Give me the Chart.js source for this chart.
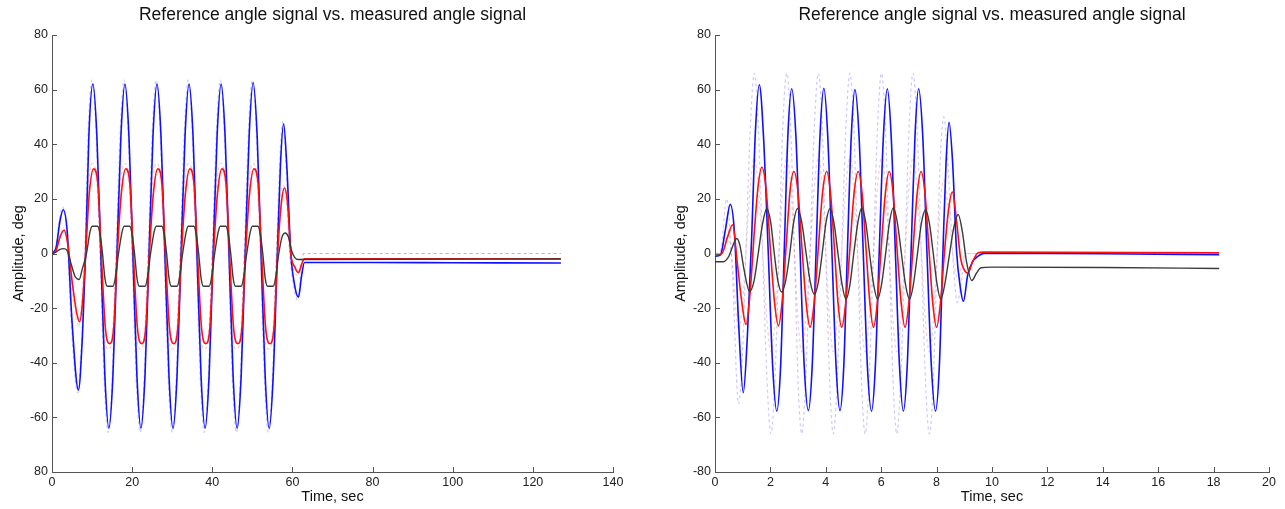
<!DOCTYPE html>
<html lang="en">
<head>
<meta charset="UTF-8">
<title>Reference angle signal vs. measured angle signal</title>
<script src="https://cdn.jsdelivr.net/npm/chart.js@4.4.1/dist/chart.umd.min.js"></script>
<style>
    body { margin: 0; padding: 0; background: #fff; }
    .wrap { position: absolute; top: 0; }
    #wrapL { left: 0; }
    #wrapR { left: 640px; }
</style>
</head>
<body>
<div class="wrap" id="wrapL"><canvas id="chartL" width="640" height="509"></canvas></div>
<div class="wrap" id="wrapR"><canvas id="chartR" width="645" height="509"></canvas></div>
<script>
// ---- data: [time (sec), angle (deg)] ----

// left plot, 0..127 s
var measBlueL = [
    [0,0],[1,2],[2,12],[2.8,16],[3.8,8],[5,-25],[6.6,-50],[7.6,-30],[8.4,0],
    [9.2,43],[10.2,62],[11.2,43],[12.2,-1],[13.2,-45],[14.2,-64],[15.2,-45],[16.2,-1],
    [17.2,43],[18.2,62],[19.2,43],[20.2,-1],[21.2,-45],[22.2,-64],[23.2,-45],[24.2,-1],
    [25.2,43],[26.2,62],[27.2,43],[28.2,-1],[29.2,-45],[30.2,-64],[31.2,-45],[32.2,-1],
    [33.2,43],[34.2,62],[35.2,43],[36.2,-1],[37.2,-45],[38.2,-64],[39.2,-45],[40.2,-1],
    [41.2,43],[42.2,62],[43.2,43],[44.2,-1],[45.2,-45],[46.2,-64],[47.2,-45],[48.2,-1],
    [49.2,43],[50.2,62.5],[51.2,43],[52.2,-1],[53.2,-45],[54.2,-64],[55.2,-45],[56.2,-2],
    [57,32],[57.8,47.5],[58.6,32],[59.6,0],[60.6,-12],[61.5,-16],[62.3,-8],[63,-3.3],
    [80,-3.3],[100,-3.4],[127,-3.5]
];
var measRedL = [
    [0,0],[1,1],[2,6],[3,8.5],[4,3],[5,-10],[6.2,-22],[6.9,-25],[7.6,-18],[8.4,0],
    [9.3,22],[10.4,31],[11.4,26],[12.3,0],[13.3,-27],[14.4,-33],[15.4,-27],[16.3,0],
    [17.3,22],[18.4,31],[19.4,26],[20.3,0],[21.3,-27],[22.4,-33],[23.4,-27],[24.3,0],
    [25.3,22],[26.4,31],[27.4,26],[28.3,0],[29.3,-27],[30.4,-33],[31.4,-27],[32.3,0],
    [33.3,22],[34.4,31],[35.4,26],[36.3,0],[37.3,-27],[38.4,-33],[39.4,-27],[40.3,0],
    [41.3,22],[42.4,31],[43.4,26],[44.3,0],[45.3,-27],[46.4,-33],[47.4,-27],[48.3,0],
    [49.3,22],[50.4,31],[51.4,26],[52.3,0],[53.3,-27],[54.4,-33],[55.4,-27],[56.3,0],
    [57.2,18],[58,24],[58.8,18],[59.6,0],[60.6,-5],[61.5,-7],[62.3,-4],[63,-1.9],[127,-1.9]
];
var measBlackL = [
    [0,0],[1,0.5],[2,1.5],[3,1.8],[3.8,1],[4.8,-4],[5.8,-8.5],[6.8,-9.5],[7.5,-6],[8.6,0],
    [9.5,8],[10,10],[11.4,10],[12,7],[12.6,0],[13.2,-9],[13.8,-12],[15.2,-12],[15.8,-9],[16.6,0],
    [17.5,8],[18,10],[19.4,10],[20,7],[20.6,0],[21.2,-9],[21.8,-12],[23.2,-12],[23.8,-9],[24.6,0],
    [25.5,8],[26,10],[27.4,10],[28,7],[28.6,0],[29.2,-9],[29.8,-12],[31.2,-12],[31.8,-9],[32.6,0],
    [33.5,8],[34,10],[35.4,10],[36,7],[36.6,0],[37.2,-9],[37.8,-12],[39.2,-12],[39.8,-9],[40.6,0],
    [41.5,8],[42,10],[43.4,10],[44,7],[44.6,0],[45.2,-9],[45.8,-12],[47.2,-12],[47.8,-9],[48.6,0],
    [49.5,8],[50,10],[51.4,10],[52,7],[52.6,0],[53.2,-9],[53.8,-12],[55.2,-12],[55.8,-9],[56.6,0],
    [57.4,6],[58.2,7.5],[59,6],[59.8,1],[60.6,-1.5],[61.5,-2.2],[63,-2.2],[127,-2]
];
var refBlueL = [
    [0,0],[1,3],[1.9,13],[2.6,17],[3.6,9],[4.8,-26],[6.4,-51],[7.4,-31],[8.2,0],
    [9,44],[10,63.5],[11,44],[12,0],[13,-46],[14,-65.5],[15,-46],[16,0],
    [17,44],[18,63.5],[19,44],[20,0],[21,-46],[22,-65.5],[23,-46],[24,0],
    [25,44],[26,63.5],[27,44],[28,0],[29,-46],[30,-65.5],[31,-46],[32,0],
    [33,44],[34,63.5],[35,44],[36,0],[37,-46],[38,-65.5],[39,-46],[40,0],
    [41,44],[42,63.5],[43,44],[44,0],[45,-46],[46,-65.5],[47,-46],[48,0],
    [49,44],[50,63.5],[51,44],[52,0],[53,-46],[54,-65.5],[55,-46],[56,-1],
    [56.8,33],[57.6,48.5],[58.4,33],[59.4,0],[60.4,-13],[61.3,-17],[62.1,-7],[62.8,0],[127,0]
];
var refRedL = [
    [0,0],[1,1],[2,6.5],[2.8,9.5],[3.8,3],[4.8,-11],[6,-24],[6.6,-27],[7.3,-19],[8.1,0],
    [9,24],[10.1,33],[11.1,28],[12,0],[13,-29],[14.1,-35],[15.1,-29],[16,0],
    [17,24],[18.1,33],[19.1,28],[20,0],[21,-29],[22.1,-35],[23.1,-29],[24,0],
    [25,24],[26.1,33],[27.1,28],[28,0],[29,-29],[30.1,-35],[31.1,-29],[32,0],
    [33,24],[34.1,33],[35.1,28],[36,0],[37,-29],[38.1,-35],[39.1,-29],[40,0],
    [41,24],[42.1,33],[43.1,28],[44,0],[45,-29],[46.1,-35],[47.1,-29],[48,0],
    [49,24],[50.1,33],[51.1,28],[52,0],[53,-29],[54.1,-35],[55.1,-29],[56,0],
    [56.9,19],[57.7,25],[58.5,19],[59.3,0],[60.3,-6],[61.2,-8],[62,-4],[62.8,0],[127,0]
];

// right plot, 0..18.2 s
var measBlueR = [
    [0,-1],[0.2,-0.5],[0.38,9],[0.55,18],[0.7,8],[0.85,-25],[1.02,-51],[1.17,-30],[1.32,5],[1.46,45],[1.6,61.8],
    [1.75,43],[1.92,1],[2.08,-41],[2.23,-57.7],[2.37,-41],[2.5,1],[2.63,43],[2.77,60.3],
    [2.92,43],[3.07,1],[3.22,-41],[3.37,-57.5],[3.51,-41],[3.65,1],[3.79,43],[3.93,60.5],
    [4.07,43],[4.22,1],[4.37,-41],[4.51,-57.5],[4.65,-41],[4.78,1],[4.92,43],[5.05,60],
    [5.2,43],[5.35,1],[5.5,-41],[5.65,-57.7],[5.79,-41],[5.93,1],[6.08,43],[6.22,60.3],
    [6.36,43],[6.51,1],[6.66,-41],[6.8,-57.7],[6.94,-41],[7.08,1],[7.22,43],[7.35,60.3],
    [7.5,43],[7.65,1],[7.81,-41],[7.96,-57.7],[8.1,-41],[8.23,1],[8.34,33],[8.45,48],
    [8.58,33],[8.72,1],[8.85,-12],[8.97,-17.5],[9.12,-8],[9.3,-3],[9.5,-1],[9.7,0],
    [12,0],[15,-0.2],[18.2,-0.4]
];
var measRedR = [
    [0,-0.5],[0.25,0],[0.45,6],[0.64,10.5],[0.8,-3],[0.97,-18],[1.12,-26],[1.27,-14],[1.42,8],[1.56,25],[1.69,31.6],
    [1.84,24],[1.99,3],[2.14,-17],[2.29,-26.5],[2.43,-17],[2.57,3],[2.71,23],[2.85,30],
    [3,22],[3.14,2],[3.29,-18],[3.43,-27],[3.58,-18],[3.73,2],[3.88,22],[4.03,30],
    [4.17,22],[4.31,2],[4.44,-18],[4.57,-27],[4.72,-18],[4.87,2],[5.02,22],[5.17,30],
    [5.31,22],[5.45,2],[5.59,-18],[5.72,-27],[5.86,-18],[6,2],[6.15,22],[6.29,30],
    [6.43,22],[6.57,2],[6.72,-18],[6.86,-27],[7,-18],[7.15,2],[7.3,22],[7.44,30],
    [7.58,22],[7.72,2],[7.86,-18],[8,-27],[8.14,-18],[8.28,0],[8.43,16],[8.57,22.5],
    [8.72,12],[8.87,-2],[9,-6],[9.13,-7.2],[9.3,-3],[9.5,0.3],[9.7,0.5],[18.2,0.3]
];
var measBlackR = [
    [0,-3],[0.3,-3],[0.5,-1],[0.65,3],[0.78,5.5],[0.9,3],[1.05,-6],[1.25,-13.9],
    [1.41,-10],[1.56,0],[1.72,11],[1.87,16.5],[2.01,11.5],[2.14,0],[2.27,-10],[2.41,-14.1],
    [2.55,-10],[2.7,0],[2.84,11.5],[2.98,16.5],[3.13,11.5],[3.29,0],[3.44,-10.5],[3.59,-15],
    [3.73,-10.5],[3.87,0],[4.01,11.5],[4.15,16.5],[4.29,11.5],[4.44,0],[4.59,-11.5],[4.73,-16.8],
    [4.87,-11.5],[5.01,0],[5.16,11.5],[5.3,16.8],[5.44,11.5],[5.58,0],[5.73,-11.5],[5.87,-16.8],
    [6.01,-11.5],[6.16,0],[6.3,11.5],[6.44,16.8],[6.58,11.5],[6.73,0],[6.88,-11.5],[7.02,-16.8],
    [7.16,-11.5],[7.31,0],[7.45,11],[7.6,16],[7.74,11],[7.88,0],[8.02,-11.5],[8.15,-16.8],
    [8.3,-11],[8.47,0],[8.63,10],[8.78,14.3],[8.93,8],[9.08,-3],[9.27,-9.9],[9.45,-7],[9.6,-5.2],
    [10,-5],[14,-5.1],[18.2,-5.5]
];
var refBlueR = [
    [0,0],[0.2,1],[0.42,20],[0.62,-5],[0.85,-55],[1,-35],[1.13,5],[1.28,47],[1.42,66],
    [1.56,47],[1.72,0],[1.88,-47],[2.02,-66],[2.16,-47],[2.31,0],[2.45,47],[2.59,66],
    [2.73,47],[2.87,0],[3,-47],[3.13,-66],[3.27,-47],[3.43,0],[3.59,47],[3.73,66],
    [3.87,47],[4,0],[4.14,-47],[4.27,-66],[4.41,-47],[4.57,0],[4.73,47],[4.87,66],
    [5.01,47],[5.15,0],[5.29,-47],[5.42,-66],[5.56,-47],[5.72,0],[5.87,47],[6.01,66],
    [6.15,47],[6.29,0],[6.43,-47],[6.56,-66],[6.7,-47],[6.86,0],[7.01,47],[7.15,66],
    [7.29,47],[7.45,0],[7.6,-47],[7.74,-66],[7.88,-47],[8.02,0],[8.14,36],[8.26,50],
    [8.4,34],[8.58,0],[8.75,-18],[8.92,-8],[9.05,0],[18.2,0]
];
var refRedR = [
    [0,0],[0.2,0.5],[0.42,10],[0.62,-3],[0.85,-28],[1,-18],[1.13,3],[1.28,25],[1.42,35],
    [1.56,25],[1.72,0],[1.88,-25],[2.02,-36],[2.16,-25],[2.31,0],[2.45,25],[2.59,35],
    [2.73,25],[2.87,0],[3,-25],[3.13,-36],[3.27,-25],[3.43,0],[3.59,25],[3.73,35],
    [3.87,25],[4,0],[4.14,-25],[4.27,-36],[4.41,-25],[4.57,0],[4.73,25],[4.87,35],
    [5.01,25],[5.15,0],[5.29,-25],[5.42,-36],[5.56,-25],[5.72,0],[5.87,25],[6.01,35],
    [6.15,25],[6.29,0],[6.43,-25],[6.56,-36],[6.7,-25],[6.86,0],[7.01,25],[7.15,35],
    [7.29,25],[7.45,0],[7.6,-25],[7.74,-36],[7.88,-25],[8.02,0],[8.14,19],[8.26,27],
    [8.4,18],[8.58,0],[8.75,-9],[8.92,-4],[9.05,0],[18.2,0]
];

// tick labels (bottom left label lost its minus sign in the original)
var yTickLabelsL = ['80', '-60', '-40', '-20', '0', '20', '40', '60', '80'];
var yTickLabelsR = ['-80', '-60', '-40', '-20', '0', '20', '40', '60', '80'];

var titleText = 'Reference angle signal vs. measured angle signal';
var font = "'Liberation Sans', Arial, sans-serif";

// matlab style: ticks drawn inward
var inwardTicks = {
    id: 'inwardTicks',
    afterDraw: function(chart) {
        var ctx = chart.ctx;
        var area = chart.chartArea;
        var xs = chart.scales.x, ys = chart.scales.y;
        ctx.save();
        ctx.strokeStyle = '#555';
        ctx.lineWidth = 1;
        ctx.beginPath();
        xs.ticks.forEach(function(t) {
            var px = Math.round(xs.getPixelForValue(t.value)) + 0.5;
            ctx.moveTo(px, area.bottom);
            ctx.lineTo(px, area.bottom - 5);
        });
        ys.ticks.forEach(function(t) {
            var py = Math.round(ys.getPixelForValue(t.value)) + 0.5;
            ctx.moveTo(area.left, py);
            ctx.lineTo(area.left + 5, py);
        });
        ctx.stroke();
        ctx.restore();
    }
};

function line(data, color, width, dash) {
    return {
        data: data,
        borderColor: color,
        borderWidth: width,
        borderDash: dash || [],
        pointRadius: 0,
        fill: false,
        cubicInterpolationMode: 'monotone'
    };
}

function makeChart(id, datasets, xMax, xStep, yLabels, padLeft, padRight, yWidth) {
    return new Chart(document.getElementById(id), {
        type: 'line',
        data: { datasets: datasets },
        plugins: [inwardTicks],
        options: {
            responsive: false,
            animation: false,
            events: [],
            layout: { padding: { left: padLeft, right: padRight, top: 0, bottom: 0 } },
            plugins: {
                legend: { display: false },
                tooltip: { enabled: false },
                title: {
                    display: true,
                    text: titleText,
                    fullSize: false,
                    color: '#111',
                    font: { family: font, size: 17.5, weight: 'normal' },
                    padding: { top: 5, bottom: 9 }
                }
            },
            scales: {
                x: {
                    type: 'linear',
                    min: 0, max: xMax,
                    grid: { display: false, drawTicks: false },
                    border: { display: true, color: '#555', width: 1 },
                    ticks: { stepSize: xStep, padding: 3, color: '#222', font: { family: font, size: 12.5 }, maxRotation: 0 },
                    title: { display: true, text: 'Time, sec', color: '#111', font: { family: font, size: 14.5 }, padding: { top: 2, bottom: 3 } },
                    afterFit: function(s) { s.height = 37; }
                },
                y: {
                    type: 'linear',
                    min: -80, max: 80,
                    grid: { display: false, drawTicks: false },
                    border: { display: true, color: '#555', width: 1 },
                    ticks: {
                        stepSize: 20, padding: 4, color: '#222', font: { family: font, size: 12.5 },
                        callback: function(v, i) { return yLabels[i]; }
                    },
                    title: { display: true, text: 'Amplitude, deg', color: '#111', font: { family: font, size: 14.5 }, padding: { top: 4, bottom: 2 } },
                    afterFit: function(s) { s.width = yWidth; }
                }
            }
        }
    });
}

var faintBlue = 'rgba(60,60,255,0.28)';
var faintRed = 'rgba(255,60,60,0.28)';

makeChart('chartL', [
    line(measBlackL, '#3a3a3a', 1.4),
    line(measRedL, '#ff1010', 1.6),
    line(measBlueL, '#1010ff', 1.6),
    line(refRedL, faintRed, 1.2, [3, 3]),
    line(refBlueL, faintBlue, 1.2, [3, 3])
], 140, 20, yTickLabelsL, 6, 27, 46);

makeChart('chartR', [
    line(measBlackR, '#3a3a3a', 1.4),
    line(measRedR, '#ff1010', 1.6),
    line(measBlueR, '#1010ff', 1.6),
    line(refRedR, faintRed, 1.2, [3, 3]),
    line(refBlueR, faintBlue, 1.2, [3, 3])
], 20, 2, yTickLabelsR, 28, 16, 47);
</script>
</body>
</html>
